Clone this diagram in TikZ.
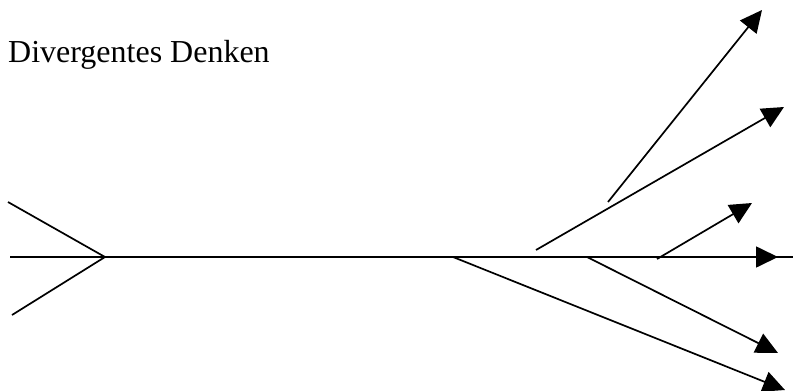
\documentclass[tikz,border=0pt]{standalone}
\usepackage{fontspec}
\setmainfont{Liberation Serif}
\usetikzlibrary{arrows.meta}
\tikzset{
  ray/.style={line width=1.7pt, line cap=butt},
  tip/.style={ray, -{Triangle[length=22pt,width=21pt]}},
  title/.style={inner sep=0pt, anchor=base west, font=\fontsize{32}{38}\selectfont}
}
\begin{document}
\begin{tikzpicture}[x=1pt,y=-1pt]
  \useasboundingbox (0,0) rectangle (793,391);
  \node[title] (label) at (8,62) {Divergentes Denken};

  % converging inputs on the left
  \coordinate (inA) at (8,202);
  \coordinate (inB) at (12,315);
  \coordinate (hub) at (105,257);
  \coordinate (left) at (10,257);
  \coordinate (right) at (793,257);

  % branching points and ends
  \coordinate (b1) at (453,257);
  \coordinate (e1) at (785,390);
  \coordinate (b2) at (587,257);
  \coordinate (e2) at (778,353);
  \coordinate (b3) at (536,250);
  \coordinate (e3) at (784,107);
  \coordinate (b4) at (608,202);
  \coordinate (e4) at (762,10);
  \coordinate (b5) at (657,259);
  \coordinate (e5) at (752,203);
  \coordinate (b6) at (683,257);
  \coordinate (e6) at (778,257);

  \draw[ray] (inA) -- (hub) -- (inB);
  \draw[ray] (left) -- (right);

  \draw[tip] (b1) -- (e1);
  \draw[tip] (b2) -- (e2);
  \draw[tip] (b3) -- (e3);
  \draw[tip] (b4) -- (e4);
  \draw[tip] (b5) -- (e5);
  \draw[tip] (b6) -- (e6);
\end{tikzpicture}
\end{document}
